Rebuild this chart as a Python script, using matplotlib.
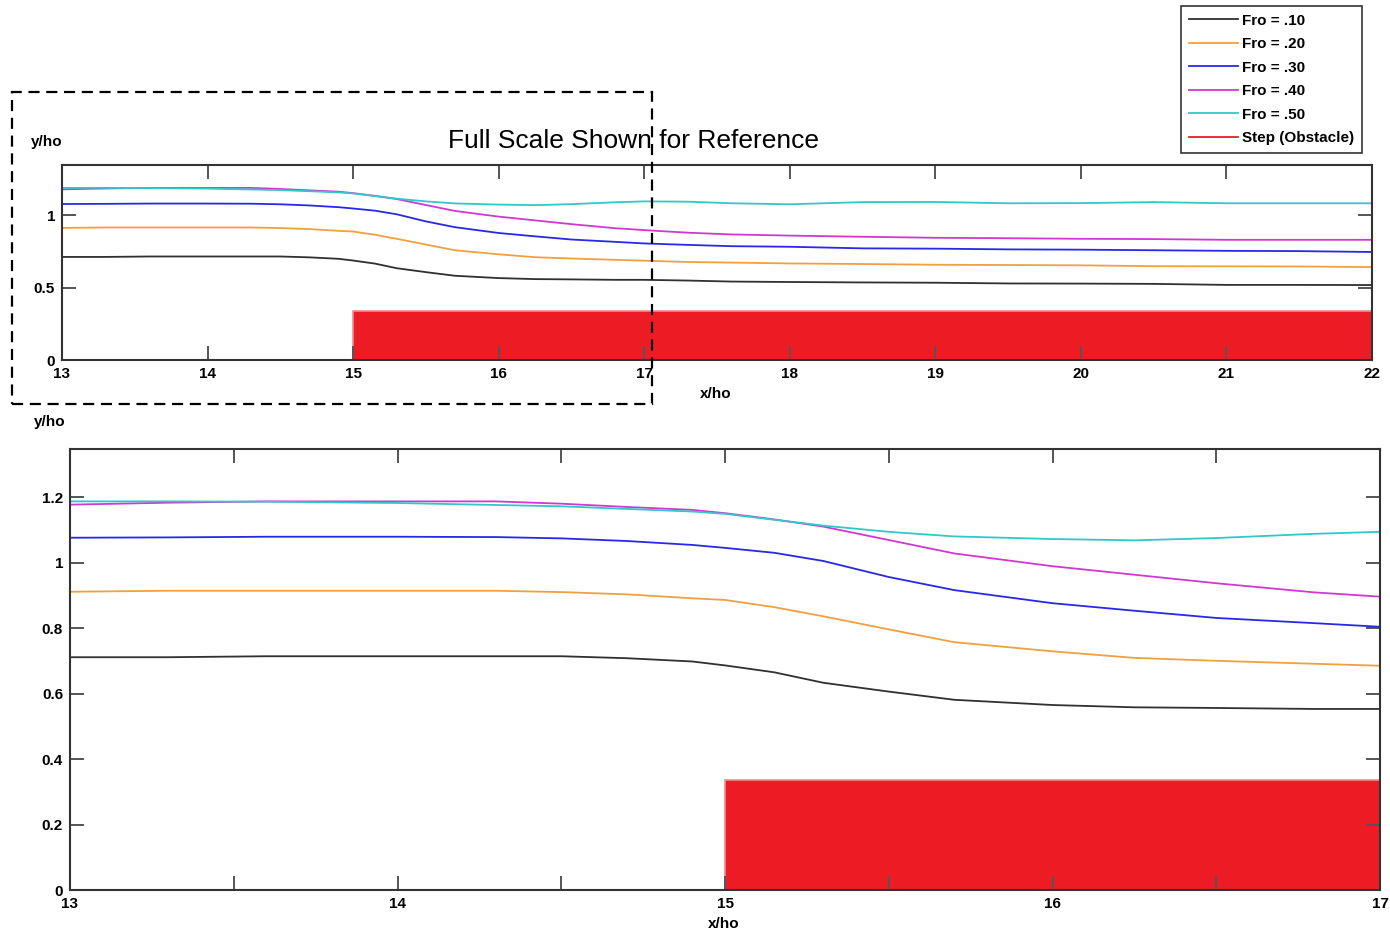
import matplotlib
matplotlib.use("Agg")
from matplotlib import pyplot as plt
from matplotlib.lines import Line2D
from matplotlib.patches import Rectangle

# Free surface profiles y/ho against x/ho
xPos = [13.0, 13.3, 13.6, 14.0, 14.3, 14.5, 14.7, 14.9, 15.0, 15.15, 15.3, 15.5,
        15.7, 16.0, 16.25, 16.5, 16.8, 17.0, 17.3, 17.6, 18.0, 18.5, 19.0, 19.5,
        20.0, 20.5, 21.0, 21.5, 22.0]

fro10 = [0.711, 0.711, 0.714, 0.714, 0.714, 0.714, 0.708, 0.698, 0.686, 0.665,
         0.633, 0.606, 0.581, 0.565, 0.558, 0.556, 0.553, 0.553, 0.548, 0.541,
         0.538, 0.535, 0.533, 0.528, 0.527, 0.525, 0.518, 0.518, 0.517]
fro20 = [0.911, 0.914, 0.914, 0.914, 0.914, 0.910, 0.903, 0.891, 0.886, 0.864,
         0.836, 0.796, 0.757, 0.729, 0.709, 0.700, 0.691, 0.685, 0.676, 0.672,
         0.666, 0.662, 0.657, 0.655, 0.653, 0.647, 0.646, 0.645, 0.641]
fro30 = [1.076, 1.077, 1.079, 1.079, 1.078, 1.074, 1.066, 1.054, 1.045, 1.030,
         1.005, 0.956, 0.916, 0.876, 0.853, 0.831, 0.815, 0.804, 0.794, 0.785,
         0.781, 0.770, 0.768, 0.763, 0.761, 0.757, 0.753, 0.751, 0.745]
fro40 = [1.177, 1.183, 1.187, 1.187, 1.187, 1.180, 1.170, 1.161, 1.151, 1.132,
         1.110, 1.069, 1.028, 0.989, 0.963, 0.937, 0.909, 0.896, 0.878, 0.866,
         0.858, 0.850, 0.843, 0.840, 0.836, 0.834, 0.829, 0.829, 0.829]
fro50 = [1.187, 1.187, 1.186, 1.182, 1.176, 1.172, 1.164, 1.156, 1.149, 1.131,
         1.113, 1.094, 1.080, 1.072, 1.068, 1.075, 1.088, 1.094, 1.092, 1.081,
         1.074, 1.089, 1.090, 1.081, 1.082, 1.089, 1.081, 1.081, 1.081]

series = [fro10, fro20, fro30, fro40, fro50]
labels = ["Fro = .10", "Fro = .20", "Fro = .30", "Fro = .40", "Fro = .50"]
colors = ["#303030", "#F0A040", "#2828E8", "#D038D0", "#30C8C8"]

# Step obstacle
STEP_START = 15.0
STEP_HEIGHT = 0.335
STEP_COLOR = "#ED1C24"

plt.rcParams['font.family'] = ['Liberation Sans Narrow', 'Liberation Sans', 'DejaVu Sans']

W, H = 1390, 938
fig = plt.figure(figsize=(W / 100, H / 100), dpi=100)


def fx(px):
	return px / W


def fy(py):
	return 1 - py / H


def DrawPanel(ax, xmax, ymax):
	for ys, lab, col in zip(series, labels, colors):
		ax.plot(xPos, ys, color=col, lw=1.3, label=lab)
	# step sits under the tick marks, like in the original
	ax.add_patch(Rectangle((STEP_START, 0), xmax - STEP_START, STEP_HEIGHT,
						   facecolor=STEP_COLOR, edgecolor="#F28C8C", lw=1.2, zorder=1))
	ax.set_xlim(13, xmax)
	ax.set_ylim(0, ymax)
	ax.tick_params(direction="in", top=True, right=True, length=10, width=1.4,
				   labelsize=11, pad=5, color="#555555")
	for sp in ax.spines.values():
		sp.set_linewidth(1.5)
		sp.set_color("#333333")


# Top panel - full scale
ax1 = fig.add_axes([fx(62), fy(360), fx(1310), 195 / H])
DrawPanel(ax1, 22, 1.345)
ax1.set_xticks(range(13, 23))
ax1.set_yticks([0, 0.5, 1])
ax1.set_yticklabels(["0", "0.5", "1"])
for lbl in ax1.get_xticklabels() + ax1.get_yticklabels():
	lbl.set_fontweight("bold")

# Bottom panel - zoomed view
ax2 = fig.add_axes([fx(70), fy(890), fx(1310), 441 / H])
DrawPanel(ax2, 17, 1.347)
xt = [13 + 0.5 * i for i in range(9)]
ax2.set_xticks(xt)
ax2.set_xticklabels([str(int(v)) if v == int(v) else "" for v in xt])
yt = [0, 0.2, 0.4, 0.6, 0.8, 1.0, 1.2]
ax2.set_yticks(yt)
ax2.set_yticklabels(["0", "0.2", "0.4", "0.6", "0.8", "1", "1.2"])
for lbl in ax2.get_xticklabels() + ax2.get_yticklabels():
	lbl.set_fontweight("bold")

# Axis labels
lblKw = dict(ha="center", va="center", fontsize=11, fontweight="bold")
fig.text(fx(47), fy(142), "y/ho", **lblKw)
fig.text(fx(716), fy(394), "x/ho", **lblKw)
fig.text(fx(50), fy(422), "y/ho", **lblKw)
fig.text(fx(724), fy(924), "x/ho", **lblKw)

fig.text(fx(634), fy(141), "Full Scale Shown for Reference", ha="center", va="center",
		 fontsize=19, family=["Liberation Sans", "DejaVu Sans"])

# Dashed box around the zoomed region
fig.patches.append(Rectangle((fx(12), fy(404)), fx(640), 312 / H, transform=fig.transFigure,
							 fill=False, edgecolor="black", lw=1.6, ls=(0, (5, 3)), zorder=10))

# Legend
handles = [Line2D([], [], color=c, lw=1.3) for c in colors]
handles.append(Line2D([], [], color=STEP_COLOR, lw=1.3))
leg = fig.legend(handles, labels + ["Step (Obstacle)"], loc="upper right",
				 bbox_to_anchor=(fx(1362), fy(6)), borderaxespad=0, frameon=True,
				 fancybox=False, prop=dict(weight="bold", size=11), handlelength=3.2,
				 labelspacing=0.62, borderpad=0.5, handletextpad=0.3)
leg.get_frame().set_edgecolor("black")
leg.get_frame().set_linewidth(1.2)

fig.savefig("out.png", dpi=100)
